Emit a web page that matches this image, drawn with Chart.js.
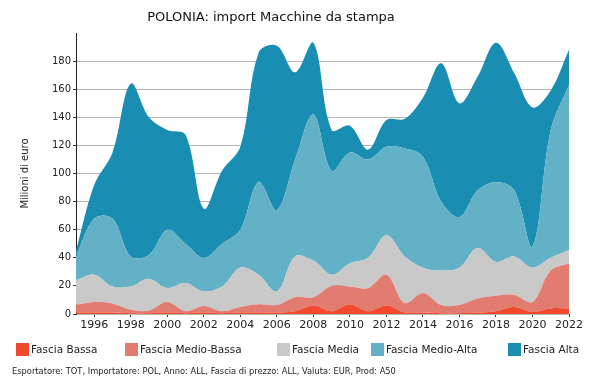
<!DOCTYPE html>
<html>
<head>
<meta charset="utf-8">
<script src="https://cdn.jsdelivr.net/npm/chart.js@4"></script>
<style>
  body { margin:0; background:#fff; font-family:"DejaVu Sans", sans-serif; }
  #wrap { position:relative; width:599px; height:392px; }
  #c { position:absolute; left:0; top:0; }
  #title { position:absolute; left:0; width:542px; top:9px; text-align:center; font-size:13px; color:#111; }
  .leg { position:absolute; top:343px; font-size:10.5px; color:#222; line-height:13px; white-space:nowrap; }
  .leg i { display:inline-block; width:13px; height:13px; vertical-align:top; margin-right:2px; }
  #note { position:absolute; left:12px; top:366px; font-size:8.3px; color:#222; white-space:nowrap; }
</style>
</head>
<body>
<div id="wrap">
  <canvas id="c" width="599" height="392"></canvas>
  <div id="title">POLONIA: import Macchine da stampa</div>
  <div id="legend"></div>
  <div id="note">Esportatore: TOT, Importatore: POL, Anno: ALL, Fascia di prezzo: ALL, Valuta: EUR, Prod: A50</div>
</div>
<script>
const years = [1995,1996,1997,1998,1999,2000,2001,2002,2003,2004,2005,2006,2007,2008,2009,2010,2011,2012,2013,2014,2015,2016,2017,2018,2019,2020,2021,2022]
const xTicks = [1996,1998,2000,2002,2004,2006,2008,2010,2012,2014,2016,2018,2020,2022]
const yTicks = [0,20,40,60,80,100,120,140,160,180]

const bassa      = [1,1,1,0.5,0.5,1,0.5,1,0.5,1,1,1,2,6,2,7,2,6,1,1,0.5,0.5,1,2,5,1.5,4,4]
const medioBassa = [5.5,7.5,6.5,2.5,2,7.5,1.5,4.7,1.5,4,6,5.4,10,6,18,12.5,16.5,22,6.8,14,5.9,5.9,10,11,8.5,7,27,32]
const media      = [17.5,19.5,12,16.5,22.5,10,20,10.3,17.5,28,21,9.6,29,26,8,16.5,21.5,28,33.2,18,24.6,26.6,36,24,27.5,24.5,9,9.5]
const medioAlta  = [17,40,48.5,21.5,17,41.5,28,24,30.5,27,66,58,69,104,74,79,70,63,77,79,49,36,41,57,47,15,91,117.5]
const alta       = [4,24,47,123,98,71,77.5,35,52,59,92,117,62,51,29,19,7,19,21,42,98.5,81,81,99,83.5,99,28,25]

const seriesNames = ["Fascia Bassa","Fascia Medio-Bassa","Fascia Media","Fascia Medio-Alta","Fascia Alta"]
const seriesColors = ["#f0492d","#e27b70","#c9c9c9","#63b1c6","#1a8db2"]
const seriesData = [bassa, medioBassa, media, medioAlta, alta]
const legendX = [16,125,277,371,508]

// legend as html, placed like the original
let lg = document.getElementById("legend")
seriesNames.forEach((n, i) => {
  let d = document.createElement("div")
  d.className = "leg"
  d.style.left = legendX[i] + "px"
  d.innerHTML = `<i style="background:${seriesColors[i]}"></i>${n}`
  lg.appendChild(d)
})

let datasets = seriesData.map((vals, i) => ({
  label: seriesNames[i],
  data: years.map((y, j) => ({x: y, y: vals[j]})),
  backgroundColor: seriesColors[i],
  borderColor: seriesColors[i],
  borderWidth: 0,
  pointRadius: 0,
  fill: i == 0 ? "origin" : "-1",
  tension: 0.35
}))

new Chart(document.getElementById("c"), {
  type: "line",
  data: {datasets: datasets},
  options: {
    responsive: false,
    animation: false,
    layout: {padding: {left: 19, top: 33, right: 30, bottom: 58}},
    plugins: {legend: {display: false}, tooltip: {enabled: false}},
    scales: {
      x: {
        type: "linear", min: 1995, max: 2022,
        afterBuildTicks: s => { s.ticks = xTicks.map(v => ({value: v})) },
        afterFit: s => { s.height = 20 },
        grid: {drawOnChartArea: false, drawTicks: true, tickLength: 3, tickColor: "#333"},
        border: {display: false},
        ticks: {autoSkip: false, maxRotation: 0, padding: 2, color: "#222", font: {family: "DejaVu Sans", size: 11}, callback: v => String(v)}
      },
      y: {
        stacked: true, min: 0, max: 200,
        afterBuildTicks: s => { s.ticks = yTicks.map(v => ({value: v})) },
        afterFit: s => { s.width = 57 },
        grid: {color: "#b5b5b5", tickColor: "#333", tickLength: 3},
        border: {display: true, color: "#222"},
        title: {display: true, text: "Milioni di euro", color: "#222", font: {family: "DejaVu Sans", size: 10}, padding: {top: 0, bottom: 4}},
        ticks: {padding: 2, color: "#222", font: {family: "DejaVu Sans", size: 10}}
      }
    }
  }
})
</script>
</body>
</html>
